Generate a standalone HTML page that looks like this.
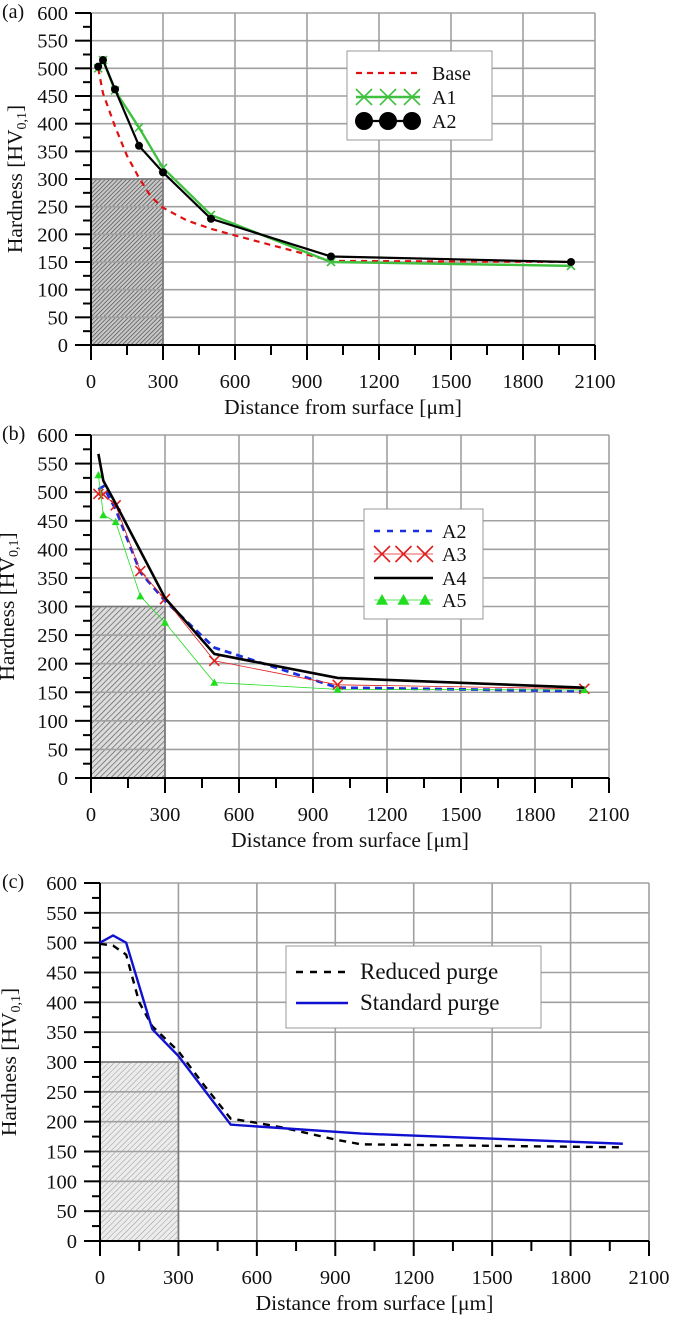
<!DOCTYPE html>
<html><head><meta charset="utf-8"><style>body{margin:0;background:#fff}svg{display:block}text{font-family:"Liberation Serif",serif;fill:#111}</style></head>
<body>
<svg id="s" width="673" height="1333" xmlns="http://www.w3.org/2000/svg">
<defs>
<pattern id="h1" width="3" height="3" patternUnits="userSpaceOnUse" patternTransform="rotate(45)"><rect width="3" height="3" fill="#c8c8c8"/><line x1="0" y1="0" x2="0" y2="3" stroke="#444" stroke-width="1.3"/></pattern>
<pattern id="h2" width="4" height="4" patternUnits="userSpaceOnUse" patternTransform="rotate(45)"><rect width="4" height="4" fill="#dcdcdc"/><line x1="0" y1="0" x2="0" y2="4" stroke="#555" stroke-width="1.3"/></pattern>
<pattern id="h3" width="4" height="4" patternUnits="userSpaceOnUse" patternTransform="rotate(45)"><rect width="4" height="4" fill="#ececec"/><line x1="0" y1="0" x2="0" y2="4" stroke="#999" stroke-width="1"/></pattern>
</defs>
<g id="g"></g>
</svg>
<script>
var out='';
function panel(P){
 var X=function(v){return P.x0+(P.x1-P.x0)*v/2100},Y=function(v){return P.y0+(P.y1-P.y0)*v/600};
 out+='<rect x="'+X(0)+'" y="'+Y(300)+'" width="'+(X(300)-X(0))+'" height="'+(Y(0)-Y(300))+'" fill="url(#'+P.h+')"/>';
 for(var v=50;v<=600;v+=50)out+='<line x1="'+X(0)+'" x2="'+X(2100)+'" y1="'+Y(v)+'" y2="'+Y(v)+'" stroke="#a0a0a0" stroke-width="1.6"/>';
 for(var v=300;v<=2100;v+=300)out+='<line x1="'+X(v)+'" x2="'+X(v)+'" y1="'+Y(0)+'" y2="'+Y(600)+'" stroke="#a0a0a0" stroke-width="1.6"/>';
 out+='<line x1="'+X(300)+'" x2="'+X(300)+'" y1="'+Y(0)+'" y2="'+Y(300)+'" stroke="#777" stroke-width="1.6"/>';
 out+='<line x1="'+X(0)+'" x2="'+X(300)+'" y1="'+Y(300)+'" y2="'+Y(300)+'" stroke="#777" stroke-width="1.6"/>';
 out+='<line x1="'+X(0)+'" x2="'+X(0)+'" y1="'+Y(0)+'" y2="'+Y(600)+'" stroke="#000" stroke-width="2"/>';
 out+='<line x1="'+(X(0)-16)+'" x2="'+X(2100)+'" y1="'+Y(0)+'" y2="'+Y(0)+'" stroke="#000" stroke-width="2"/>';
 for(var v=0;v<=600;v+=25){var maj=v%50==0;out+='<line x1="'+(X(0)-(maj?16:8))+'" x2="'+X(0)+'" y1="'+Y(v)+'" y2="'+Y(v)+'" stroke="#000" stroke-width="2"/>';
  if(maj)out+='<text x="'+(X(0)-23)+'" y="'+(Y(v)+7)+'" font-size="20.5" text-anchor="end">'+v+'</text>';}
 for(var v=0;v<=2100;v+=150){var maj=v%300==0;out+='<line x1="'+X(v)+'" x2="'+X(v)+'" y1="'+Y(0)+'" y2="'+(Y(0)+(maj?15:10))+'" stroke="#000" stroke-width="2"/>';
  if(maj)out+='<text x="'+X(v)+'" y="'+(Y(0)+43)+'" font-size="20.5" text-anchor="middle">'+v+'</text>';}
 out+='<text x="'+((X(0)+X(2100))/2)+'" y="'+(Y(0)+69)+'" font-size="21.5" text-anchor="middle">Distance from surface [μm]</text>';
 var cy=(Y(0)+Y(600))/2;
 out+='<text transform="translate('+(P.lx)+','+cy+') rotate(-90)" font-size="21.5" text-anchor="middle">Hardness [HV<tspan font-size="14" dy="4">0,1</tspan><tspan dy="-4">]</tspan></text>';
 out+='<text x="2" y="'+(Y(600)+5)+'" font-size="20">'+P.lab+'</text>';
 P.series.forEach(function(s){
  var pts=s.d.map(function(p){return X(p[0])+','+Y(p[1])}).join(' ');
  out+='<polyline points="'+pts+'" fill="none" stroke="'+s.c+'" stroke-width="'+s.w+'"'+(s.da?' stroke-dasharray="'+s.da+'"':'')+'/>';
  s.d.forEach(function(p){out+=mark(s.m,X(p[0]),Y(p[1]),s.c,s.ms||4)});
 });
 var L=P.leg;
 out+='<rect x="'+L.x+'" y="'+L.y+'" width="'+L.w+'" height="'+L.h+'" fill="#fff" stroke="#999" stroke-width="1"/>';
 L.items.forEach(function(it,i){var yy=L.ys[i];var s=it.s;
  out+='<line x1="'+L.sx+'" x2="'+L.ex+'" y1="'+yy+'" y2="'+yy+'" stroke="'+s.c+'" stroke-width="'+(s.lw||s.w)+'"'+(s.lda?' stroke-dasharray="'+s.lda+'"':'')+'/>';
  if(s.m){for(var k=0;k<3;k++)out+=mark(s.m,L.sx+8+k*(L.ex-L.sx-16)/2,yy,s.c,s.lms||7);}
  out+='<text x="'+L.tx+'" y="'+(yy+7)+'" font-size="'+L.fs+'">'+it.t+'</text>';});
}
function mark(m,x,y,c,r){
 if(!m)return '';
 if(m=='o')return '<circle cx="'+x+'" cy="'+y+'" r="'+r+'" fill="'+c+'"/>';
 if(m=='x')return '<path d="M'+(x-r)+' '+(y-r)+'L'+(x+r)+' '+(y+r)+'M'+(x-r)+' '+(y+r)+'L'+(x+r)+' '+(y-r)+'" stroke="'+c+'" stroke-width="1.6"/>';
 if(m=='t')return '<path d="M'+x+' '+(y-r)+'L'+(x+r)+' '+(y+r*0.8)+'L'+(x-r)+' '+(y+r*0.8)+'Z" fill="'+c+'"/>';
 return '';
}
var base={c:'#e01010',w:2.2,da:'6,5',d:[[30,500],[50,455],[100,395],[150,342],[200,302],[250,268],[300,248],[400,225],[500,210],[600,198],[800,175],[1000,152],[2000,150]]};
var a1={c:'#40c040',w:2.4,m:'x',ms:4,lms:8,d:[[30,500],[50,515],[100,460],[200,393],[300,320],[500,235],[1000,150],[2000,143]]};
var a2={c:'#000',w:2.2,m:'o',ms:4,lms:9,d:[[30,503],[50,515],[100,462],[200,360],[300,312],[500,228],[1000,160],[2000,150]]};
panel({x0:91,x1:595,y0:345,y1:13,h:'h1',lx:22,lab:'(a)',series:[base,a1,a2],
 leg:{x:347,y:51,w:145,h:89,sx:356,ex:420,tx:432,fs:20,ys:[73,97,121],items:[{t:'Base',s:{c:'#e01010',w:2.2,lda:'6,5'}},{t:'A1',s:a1},{t:'A2',s:a2}]}});
var b2={c:'#1a2ee0',w:2.8,da:'7,5',d:[[30,505],[50,510],[100,470],[200,360],[300,310],[500,228],[1000,158],[2000,152]]};
var b3={c:'#e02020',w:0.8,m:'x',ms:5,lms:8,lw:0.8,d:[[30,497],[50,496],[100,477],[200,362],[300,313],[500,205],[1000,163],[2000,156]]};
var b4={c:'#000',w:2.6,d:[[30,567],[50,520],[100,480],[300,315],[500,217],[1000,175],[2000,158]]};
var b5={c:'#20dd20',w:0.8,m:'t',ms:4,lms:6,d:[[30,530],[50,460],[100,448],[200,318],[300,272],[500,167],[1000,155],[2000,154]]};
panel({x0:91,x1:609,y0:778,y1:435,h:'h2',lx:14,lab:'(b)',series:[b2,b3,b5,b4],
 leg:{x:364,y:509,w:119,h:110,sx:374,ex:433,tx:442,fs:20,ys:[531,554,578,600],items:[{t:'A2',s:{c:'#1a2ee0',w:2.6,lda:'6,7'}},{t:'A3',s:b3},{t:'A4',s:b4},{t:'A5',s:b5}]}});
var rp={c:'#000',w:2.4,da:'7,6',d:[[0,498],[50,495],[100,480],[150,400],[200,360],[300,318],[400,260],[500,205],[600,198],[700,190],[800,180],[900,170],[1000,162],[2000,157]]};
var sp={c:'#1010d0',w:2.4,d:[[0,500],[50,512],[100,500],[200,355],[300,310],[500,195],[1000,180],[2000,163]]};
panel({x0:100,x1:649,y0:1241,y1:883,h:'h3',lx:16,lab:'(c)',series:[rp,sp],
 leg:{x:286,y:946,w:255,h:82,sx:296,ex:348,tx:360,fs:23,ys:[972,1003],items:[{t:'Reduced purge',s:{c:'#000',w:2.4,lda:'7,7'}},{t:'Standard purge',s:sp}]}});
document.getElementById('g').innerHTML=out;
</script>
</body></html>
